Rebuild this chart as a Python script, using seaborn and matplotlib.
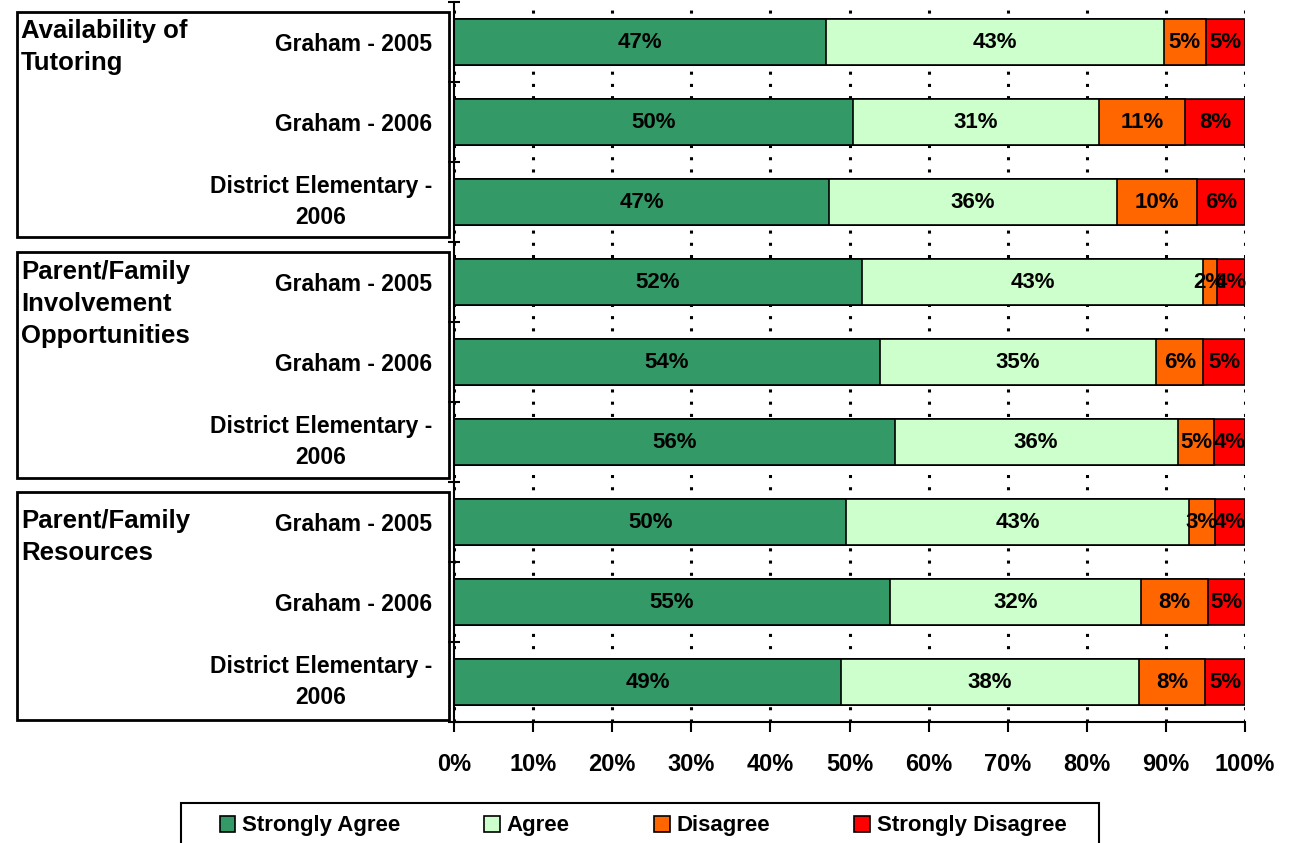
import matplotlib
matplotlib.use("Agg")
import matplotlib.pyplot as plt
import seaborn as sns
import pandas as pd
from matplotlib.patches import Patch, Rectangle

# ---------------- data ----------------
row_labels = ["Graham - 2005", "Graham - 2006", "District Elementary -\n2006"] * 3
groups = ["Availability of\nTutoring",
          "Parent/Family\nInvolvement\nOpportunities",
          "Parent/Family\nResources"]
responses = ["Strongly Agree", "Agree", "Disagree", "Strongly Disagree"]
strongly_agree = [47.0, 50.4, 47.4, 51.6, 53.8, 55.7, 49.6, 55.1, 48.9]
agree = [42.7, 31.1, 36.4, 43.1, 35.0, 35.8, 43.3, 31.8, 37.7]
disagree = [5.4, 10.9, 10.1, 1.7, 5.9, 4.6, 3.3, 8.4, 8.4]
strongly_disagree = [4.9, 7.6, 6.1, 3.6, 5.3, 3.9, 3.8, 4.7, 5.0]
colors = ["#339966", "#CCFFCC", "#FF6600", "#FF0000"]
xticks = list(range(0, 101, 10))

# ---------------- setup ----------------
sns.set_style("white")
plt.rcParams["font.family"] = ["Liberation Sans", "DejaVu Sans"]
plt.rcParams["font.weight"] = "bold"
plt.rcParams["text.color"] = "black"
plt.rcParams["xtick.color"] = "black"
plt.rcParams["ytick.color"] = "black"
plt.rcParams["axes.labelcolor"] = "black"

W, H = 1289, 843
fig = plt.figure(figsize=(W / 100, H / 100), dpi=100)
ax = fig.add_axes([454 / W, 1 - 722 / H, (1245 - 454) / W, (722 - 2) / H])

keys = [f"r{i}" for i in range(len(row_labels))]
series = [strongly_agree, agree, disagree, strongly_disagree]
df = pd.DataFrame({"key": keys})
cum = [0.0] * len(keys)
cums = []
for s in series:
    cum = [c + v for c, v in zip(cum, s)]
    cums.append(list(cum))
for j, r in enumerate(responses):
    df[r] = cums[j]

# draw from the longest cumulative bar to the shortest
for j in reversed(range(len(responses))):
    sns.barplot(data=df, x=responses[j], y="key", order=keys, orient="h",
                color=colors[j], saturation=1, width=0.575,
                edgecolor="black", linewidth=1.2, ax=ax)

# segment labels
for i in range(len(keys)):
    left = 0.0
    for j, s in enumerate(series):
        v = s[i]
        ax.text(left + v / 2, i, f"{v:.0f}%", ha="center", va="center",
                fontsize=16, fontweight="bold", color="black")
        left += v

ax.set_xlim(0, 100)
ax.set_ylim(len(keys) - 0.5, -0.5)
ax.set_xticks(xticks)
ax.set_xticklabels([f"{t}%" for t in xticks], fontsize=17, fontweight="bold")
ax.set_yticks(range(len(keys)))
ax.set_yticklabels(row_labels, fontsize=16.5, fontweight="bold")
for t in ax.get_yticklabels():
    t.set_multialignment("center")
    t.set_linespacing(1.47)
    if "\n" in t.get_text():
        t.set_verticalalignment("center")
ax.set_yticks([k - 0.5 for k in range(len(keys) + 1)], minor=True)
ax.tick_params(axis="y", which="major", length=0, pad=16)
ax.tick_params(axis="y", which="minor", length=9, width=1.5, direction="inout",
               left=True, color="black")
ax.tick_params(axis="x", which="major", length=7, width=1.5, direction="out",
               bottom=True, pad=15, color="black")
ax.set_xlabel("")
ax.set_ylabel("")

for sp in ["top", "right"]:
    ax.spines[sp].set_visible(False)
for sp in ["left", "bottom"]:
    ax.spines[sp].set_color("black")
    ax.spines[sp].set_linewidth(1.5)

ax.xaxis.grid(True, color="black", linestyle=(0, (1, 3)), linewidth=2.2)
ax.yaxis.grid(False)
ax.set_axisbelow(True)

# group boxes and labels
boxes = [(12, 237), (252, 478), (492, 720)]
label_tops = [19, 260, 509]
for (y0, y1), g, lt in zip(boxes, groups, label_tops):
    fig.add_artist(Rectangle((17 / W, 1 - y1 / H), (449 - 17) / W, (y1 - y0) / H,
                             fill=False, edgecolor="black", linewidth=2,
                             transform=fig.transFigure))
    fig.text(21 / W, 1 - lt / H, g, ha="left", va="top", fontsize=18.5,
             fontweight="bold", linespacing=1.41)

# legend
handles = [Patch(facecolor=c, edgecolor="black", linewidth=1.2, label=r)
           for c, r in zip(colors, responses)]
fig.legend(handles=handles, loc="center", bbox_to_anchor=(643 / W, 1 - 826 / H),
           ncol=4, frameon=False, prop={"size": 16, "weight": "bold"},
           handlelength=0.7, handleheight=0.7, handletextpad=0.3,
           columnspacing=3.8)
fig.add_artist(Rectangle((181 / W, 1 - 860 / H), (1099 - 181) / W, (860 - 803) / H,
                         fill=False, edgecolor="black", linewidth=1.5,
                         transform=fig.transFigure, clip_on=False))

fig.savefig("out.png", dpi=100)
